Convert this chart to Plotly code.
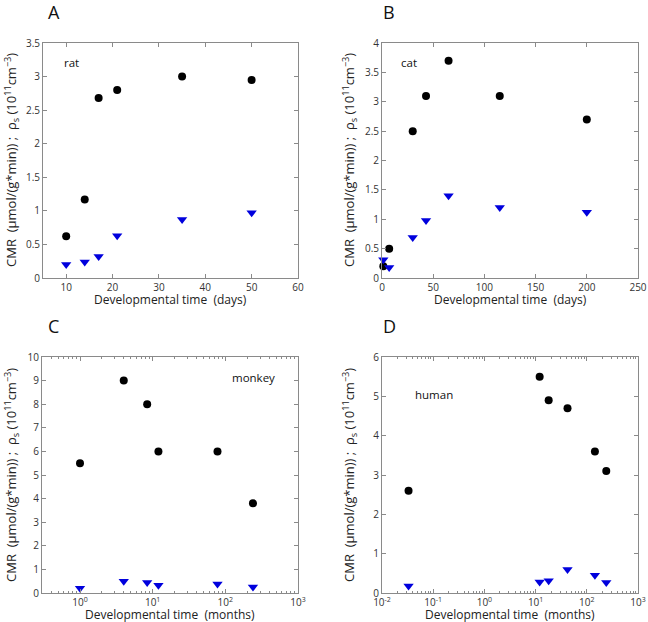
import plotly.graph_objects as go

# ---- data ----
rat_days = [10, 14, 17, 21, 35, 50]
rat_cmr = [0.62, 1.17, 2.68, 2.80, 3.00, 2.95]
rat_rho = [0.20, 0.24, 0.32, 0.63, 0.87, 0.97]

cat_days_cmr = [1.3, 7, 30, 43, 65, 115, 200]
cat_cmr = [0.20, 0.50, 2.50, 3.10, 3.70, 3.10, 2.70]
cat_days_rho = [1.3, 7, 30, 43, 65, 115, 200]
cat_rho = [0.31, 0.18, 0.69, 0.98, 1.40, 1.20, 1.12]

monkey_months = [1, 4, 8.4, 12, 78, 240]
monkey_cmr = [5.5, 9.0, 8.0, 6.0, 6.0, 3.8]
monkey_rho = [0.20, 0.50, 0.45, 0.33, 0.38, 0.25]

human_months = [0.033, 12, 18, 42, 144, 240]
human_cmr = [2.6, 5.5, 4.9, 4.7, 3.6, 3.1]
human_rho = [0.18, 0.28, 0.31, 0.60, 0.45, 0.27]

log_tick_vals = [0.01, 0.1, 1, 10, 100, 1000]
log_tick_text = ["10<sup>-2</sup>", "10<sup>-1</sup>", "10<sup>0</sup>",
                 "10<sup>1</sup>", "10<sup>2</sup>", "10<sup>3</sup>"]

W, H = 648, 622
FONT = "Open Sans"
BLACK = "#000000"
BLUE = "#0000dd"

def px_x(p):
    return p / W

def px_y(p):
    return 1 - p / H

fig = go.Figure()

panels = [
    # (xaxis, yaxis, left, right, top, bottom)
    ("x", "y", 43, 298, 43, 278),
    ("x2", "y2", 382, 638, 43, 278),
    ("x3", "y3", 42, 298, 357, 593),
    ("x4", "y4", 382, 638, 357, 593),
]

series = [
    (rat_days, rat_cmr, rat_days, rat_rho),
    (cat_days_cmr, cat_cmr, cat_days_rho, cat_rho),
    (monkey_months, monkey_cmr, monkey_months, monkey_rho),
    (human_months, human_cmr, human_months, human_rho),
]

for (xa, ya, *_), (xc, yc, xr, yr) in zip(panels, series):
    fig.add_trace(go.Scatter(x=xc, y=yc, mode="markers", xaxis=xa, yaxis=ya,
                             marker=dict(symbol="circle", size=8, color=BLACK),
                             showlegend=False, cliponaxis=False))
    fig.add_trace(go.Scatter(x=xr, y=yr, mode="markers", xaxis=xa, yaxis=ya,
                             marker=dict(symbol="triangle-down", size=9, color=BLUE),
                             showlegend=False, cliponaxis=False))

axis_common = dict(showline=True, linecolor="#8a8a8a", linewidth=1, mirror="ticks",
                   ticks="inside", ticklen=4, tickcolor="#8a8a8a", showgrid=False,
                   zeroline=False, automargin=False,
                   tickfont=dict(family=FONT, size=10, color="#333333"))

layout = dict(width=W, height=H, margin=dict(l=0, r=0, t=0, b=0, autoexpand=False),
              paper_bgcolor="white", plot_bgcolor="white", showlegend=False,
              font=dict(family=FONT))

yranges = [[0, 3.5], [0, 4], [0, 10], [0, 6]]
ydticks = [0.5, 0.5, 1, 1]

for i, (xa, ya, l, r, t, b) in enumerate(panels):
    xkey = "xaxis" if i == 0 else f"xaxis{i+1}"
    ykey = "yaxis" if i == 0 else f"yaxis{i+1}"
    xd = dict(axis_common, domain=[px_x(l), px_x(r)], anchor=ya)
    if i == 0:
        xd.update(range=[5, 60], dtick=10, tick0=0)
    elif i == 1:
        xd.update(range=[0, 250], dtick=50, tick0=0)
    else:
        xd.update(type="log", range=[-0.523 if i == 2 else -2, 3],
                  tickmode="array", tickvals=log_tick_vals, ticktext=log_tick_text,
                  minor=dict(ticks="inside", ticklen=2, tickcolor="#8a8a8a",
                             tickvals=[m * 10 ** e for e in range(-2, 3) for m in range(2, 10)]))
    yd = dict(axis_common, domain=[px_y(b), px_y(t)], anchor=xa,
              range=yranges[i], dtick=ydticks[i], tick0=0)
    layout[xkey] = xd
    layout[ykey] = yd

fig.update_layout(**layout)

def note(txt, x, y, size, color, angle=0):
    return dict(text=txt, x=px_x(x), y=px_y(y), xref="paper", yref="paper",
                xanchor="center", yanchor="middle", textangle=angle,
                showarrow=False, font=dict(family=FONT, size=size, color=color))

ytitle = "CMR  (μmol/(g*min)) ;  ρ<sub>s</sub> (10<sup>11</sup>cm<sup>−3</sup>)"
ann = []
for txt, x, y in [("A", 54, 12), ("B", 389, 12), ("C", 53, 326), ("D", 389, 326)]:
    ann.append(note(txt, x, y, 18, "#111111"))

for x, y in [(11, 160), (349, 160), (11, 475), (349, 475)]:
    ann.append(note(ytitle, x, y, 13, "#222222", -90))

for txt, x, y in [("Developmental time  (days)", 170, 299),
                  ("Developmental time  (days)", 510, 299),
                  ("Developmental time  (months)", 170, 614),
                  ("Developmental time  (months)", 510, 614)]:
    ann.append(note(txt, x, y, 12, "#222222"))

for txt, x, y in [("rat", 71, 62), ("cat", 409, 62), ("monkey", 253, 377), ("human", 434, 394)]:
    ann.append(note(txt, x, y, 11.5, "#111111"))

fig.update_layout(annotations=ann)
fig.write_html("out.html", config={"displayModeBar": False},
               post_script="document.body.style.margin='0';")
